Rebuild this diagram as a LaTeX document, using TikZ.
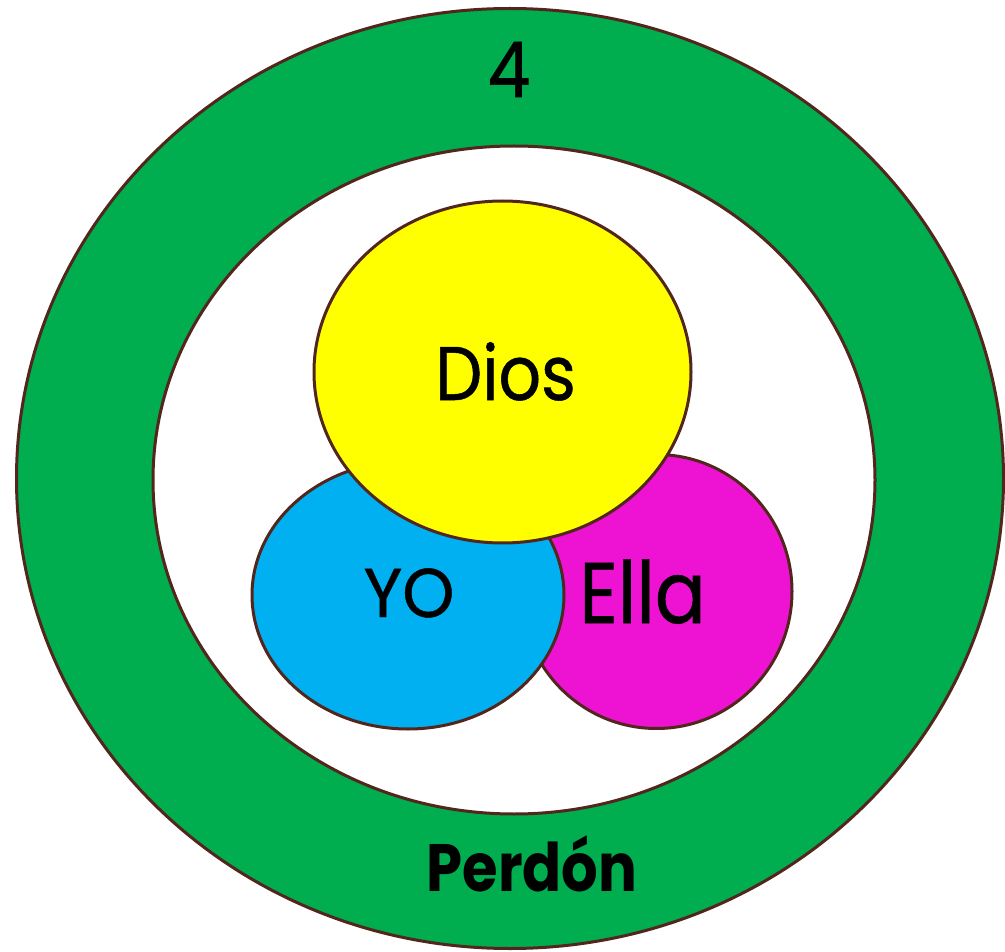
\documentclass[tikz,border=0pt]{standalone}
\usepackage{fontspec}
\setmainfont{Poppins}
\newfontfamily\narrowfont[FakeStretch=0.875,FakeBold=0.7]{Poppins}
\newfontfamily\wideishfont[FakeStretch=0.96,FakeBold=0.7]{Poppins}
\newfontfamily\boldnarrow[FakeStretch=0.86]{Poppins Bold}
\definecolor{ringgreen}{RGB}{0,173,79}
\definecolor{edgebrown}{RGB}{82,38,28}
\definecolor{diosyellow}{RGB}{255,255,0}
\definecolor{yoblue}{RGB}{0,176,240}
\definecolor{ellamag}{RGB}{238,18,210}
\tikzset{
  blob/.style={draw=edgebrown, line width=3pt},
  lbl/.style={anchor=base, inner sep=0pt, text=black}
}
\begin{document}
\begin{tikzpicture}[x=1pt,y=-1pt]
\useasboundingbox (0,0) rectangle (1005,952);
% outer ring
\draw[blob, fill=ringgreen] (510,478.5) ellipse [x radius=493.5, y radius=470];
\draw[blob, fill=white] (514,480) ellipse [x radius=361, y radius=334];
% three circles
\draw[blob, fill=ellamag] (656.5,591.5) ellipse [x radius=135.5, y radius=137];
\draw[blob, fill=yoblue] (408,595) ellipse [x radius=156, y radius=134];
\draw[blob, fill=diosyellow] (502.5,372) ellipse [x radius=188.5, y radius=171];
% labels
\node[lbl, font=\narrowfont\fontsize{77}{80}\selectfont] (four) at (509,97) {4};
\node[lbl, font=\narrowfont\fontsize{76}{80}\selectfont] (dios) at (505.5,400) {Dios};
\node[lbl, font=\wideishfont\fontsize{69}{72}\selectfont] (yo) at (409,617) {YO};
\node[lbl, font=\narrowfont\fontsize{86}{90}\selectfont] (ella) at (642.5,623) {Ella};
\node[lbl, font=\boldnarrow\fontsize{67}{70}\selectfont] (perdon) at (532,891) {Perdón};
\end{tikzpicture}
\end{document}
